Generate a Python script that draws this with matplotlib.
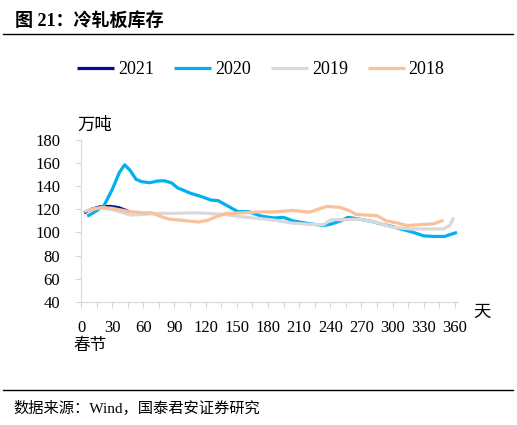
import numpy as np
import matplotlib
matplotlib.use("Agg")
import matplotlib.pyplot as plt

# ---------- data ----------
days_2021 = [3, 10, 18, 28, 36, 42, 46]
vals_2021 = [117, 120, 122, 122.5, 121.5, 119.5, 118]

days_2020 = [6, 12, 22, 30, 37, 42, 47, 53, 58, 66, 74, 80, 87, 93, 100, 105,
             116, 125, 132, 141, 151, 161, 174, 186, 195, 204, 220, 233, 240,
             250, 257, 268, 280, 288, 300, 310, 320, 330, 340, 350, 362]
vals_2020 = [114, 117, 123, 137, 152, 158.5, 154, 146, 144, 143, 144.5, 144.7,
             143, 138.5, 136, 134, 131, 128, 127.5, 123, 118, 118, 114, 112.5,
             113, 110, 107.5, 106, 107, 110, 113, 111.5, 109.5, 107.5, 105,
             102.5, 100, 97, 96.5, 96.5, 100]

days_2019 = [3, 10, 16, 26, 35, 42, 48, 58, 75, 90, 108, 122, 138, 155, 172,
             187, 204, 220, 233, 241, 256, 268, 285, 300, 317, 330, 349, 355, 359]
vals_2019 = [118, 120, 121, 120.5, 118.5, 116.5, 115, 115.5, 116.5, 116.5, 117,
             116.5, 115.5, 113.5, 112, 110.5, 108, 107, 106.5, 111, 111, 111.5,
             108.5, 104.5, 103, 103, 103, 106, 113]

days_2018 = [6, 12, 20, 29, 38, 47, 58, 68, 76, 85, 97, 113, 122, 130, 140, 148,
             155, 174, 187, 204, 220, 228, 237, 249, 258, 265, 285, 294, 305,
             314, 333, 340, 349]
vals_2018 = [118, 120, 121.5, 121, 119.5, 118, 117, 117, 114, 111.5, 110.5, 109,
             110.5, 113.5, 116.5, 116.5, 117, 117.8, 117.8, 119, 117.5, 120,
             122.5, 121.7, 119, 115.5, 114.5, 110, 108, 106, 107, 107.5, 110.5]

series = [("2021", days_2021, vals_2021, "#0a0a8c"),
          ("2020", days_2020, vals_2020, "#00b0f0"),
          ("2019", days_2019, vals_2019, "#d9d9d9"),
          ("2018", days_2018, vals_2018, "#fbbf99")]

x_ticks = list(range(0, 361, 30))
y_ticks = list(range(40, 181, 20))

# ---------- figure ----------
W, H = 517, 425
fig = plt.figure(figsize=(W / 100, H / 100), dpi=100)
serif = ["Liberation Serif", "Noto Sans CJK SC"]

def px(x, y):
    return x / W, 1 - y / H

ax = fig.add_axes([81 / W, 1 - 301.7 / H, 377 / W, 161.7 / H])
for name, d, v, c in series:
    ax.plot(d, v, color=c, lw=2.3, label=name, solid_capstyle="butt")

ax.set_xlim(0, 363)
ax.set_ylim(40, 180)
ax.set_xticks(x_ticks)
ax.set_xticks(range(15, 361, 30), minor=True)
ax.set_yticks(y_ticks)
for s in ["top", "right"]:
    ax.spines[s].set_visible(False)
for s in ["left", "bottom"]:
    ax.spines[s].set_color("#d9d9d9")
ax.tick_params(axis="both", which="both", color="#d9d9d9", length=4, width=0.8)
ax.tick_params(axis="y", pad=11, labelsize=12)
ax.tick_params(axis="x", pad=9, labelsize=12)
for lab in ax.get_xticklabels() + ax.get_yticklabels():
    lab.set_family(serif)

fig.legend(loc="center", bbox_to_anchor=px(261, 70), ncol=4, frameon=False,
           prop={"family": serif, "size": 13}, handlelength=2.05,
           handletextpad=0.22, columnspacing=1.1)

# titles and labels
fig.text(*px(15, 21), "图 21：冷轧板库存", family=serif, weight="bold",
         fontsize=13, va="center", ha="left")
fig.add_artist(plt.Line2D([3 / W, 513 / W], [1 - 34 / H] * 2, color="black", lw=1))
fig.add_artist(plt.Line2D([3 / W, 513 / W], [1 - 390 / H] * 2, color="black", lw=1))
fig.text(*px(13, 408), "数据来源：Wind，国泰君安证券研究", family=serif,
         fontsize=11, va="center", ha="left")
fig.text(*px(95, 126), "万吨", family=serif, fontsize=12.5, va="center", ha="center")
fig.text(*px(90, 346), "春节", family=serif, fontsize=12, va="center", ha="center")
fig.text(*px(482, 313), "天", family=serif, fontsize=12.5, va="center", ha="center")

fig.savefig("out.png", dpi=100)
